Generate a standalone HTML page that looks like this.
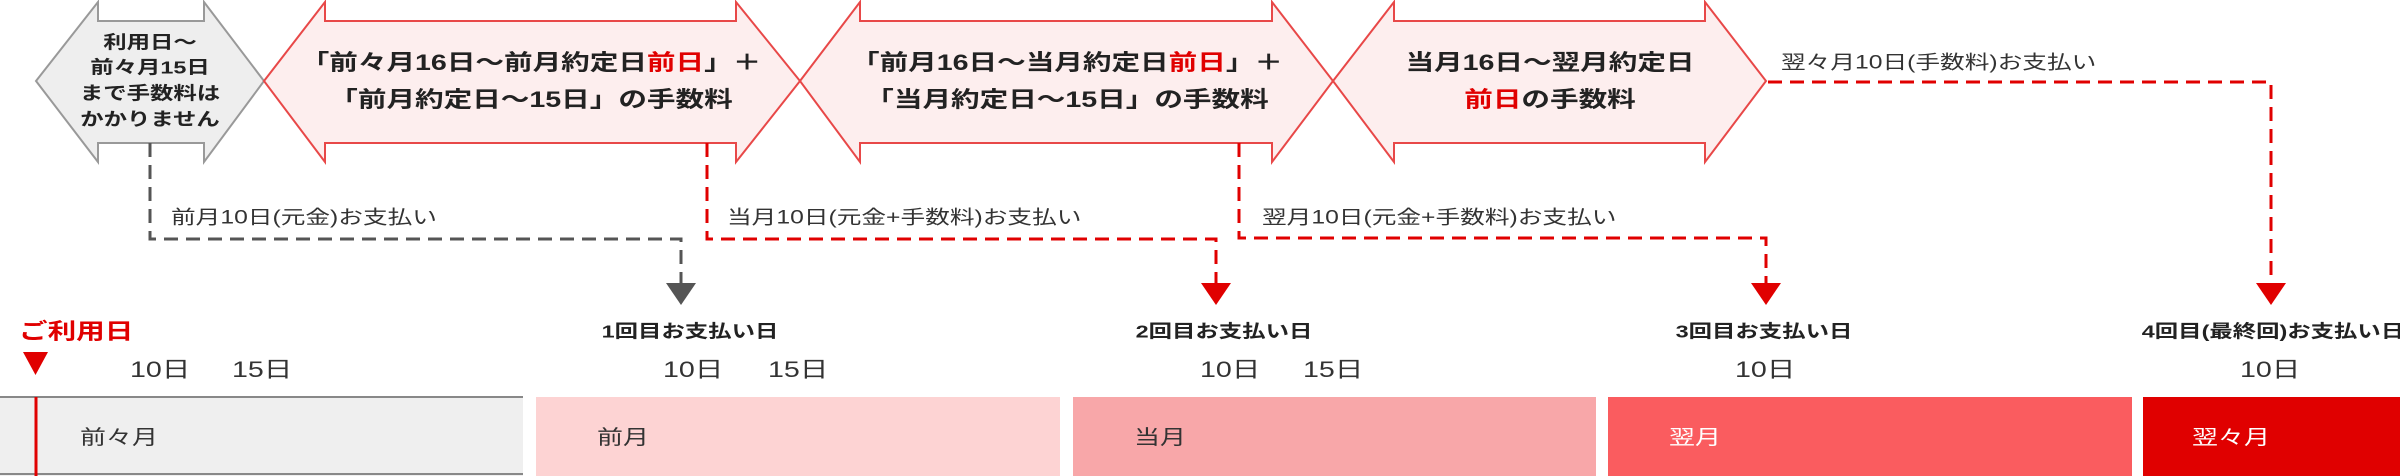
<!DOCTYPE html>
<html><head><meta charset="utf-8"><style>
html,body{margin:0;padding:0;background:#fff;}
svg{display:block;}
text{font-family:"Liberation Sans","Noto Sans CJK JP",sans-serif;dominant-baseline:central;}
.b{font-weight:bold;fill:#222;}
.n{fill:#333;}
.r{fill:#e00000;}
</style></head><body>
<svg width="2400" height="476" viewBox="0 0 2400 476" xmlns="http://www.w3.org/2000/svg">
<polygon points="36,81 98,2 98,21 204,21 204,2 264,81 204,162 204,143 98,143 98,162" fill="#eeeeee" stroke="#999" stroke-width="2"/>
<polygon points="264,81 325,2 325,21 736,21 736,2 800,81 736,162 736,143 325,143 325,162" fill="#fdeeee" stroke="#e84848" stroke-width="2"/>
<polygon points="800,81 860,2 860,21 1272,21 1272,2 1333,81 1272,162 1272,143 860,143 860,162" fill="#fdeeee" stroke="#e84848" stroke-width="2"/>
<polygon points="1333,81 1394,2 1394,21 1705,21 1705,2 1766,81 1705,162 1705,143 1394,143 1394,162" fill="#fdeeee" stroke="#e84848" stroke-width="2"/>

<g class="b" font-size="18" text-anchor="middle">
<text transform="translate(150,43) scale(1.3,1)">利用日～</text>
<text transform="translate(150,68) scale(1.3,1)">前々月15日</text>
<text transform="translate(150,94) scale(1.3,1)">まで手数料は</text>
<text transform="translate(150,120) scale(1.3,1)">かかりません</text>
</g>
<g class="b" font-size="22" text-anchor="middle">
<text transform="translate(531,63) scale(1.3,1)">「前々月16日～前月約定日<tspan class="r">前日</tspan>」＋</text>
<text transform="translate(531,100) scale(1.3,1)">「前月約定日～15日」の手数料</text>
<text transform="translate(1067,63) scale(1.3,1)">「前月16日～当月約定日<tspan class="r">前日</tspan>」＋</text>
<text transform="translate(1067,100) scale(1.3,1)">「当月約定日～15日」の手数料</text>
<text transform="translate(1550,63) scale(1.3,1)">当月16日～翌月約定日</text>
<text transform="translate(1550,100) scale(1.3,1)"><tspan class="r">前日</tspan>の手数料</text>
</g>

<g fill="none" stroke-width="3" stroke-dasharray="14,8">
<polyline points="150,143 150,239 681,239 681,283" stroke="#555"/>
<polyline points="707,143 707,239 1216,239 1216,283" stroke="#e00000"/>
<polyline points="1239,143 1239,238 1766,238 1766,283" stroke="#e00000"/>
<polyline points="1768,82 2271,82 2271,283" stroke="#e00000"/>
</g>
<polygon points="666,283 696,283 681,305" fill="#555"/>
<polygon points="1201,283 1231,283 1216,305" fill="#e00000"/>
<polygon points="1751,283 1781,283 1766,305" fill="#e00000"/>
<polygon points="2256,283 2286,283 2271,305" fill="#e00000"/>

<g class="n" font-size="19">
<text transform="translate(171,217) scale(1.3,1)">前月10日(元金)お支払い</text>
<text transform="translate(727,217) scale(1.3,1)">当月10日(元金+手数料)お支払い</text>
<text transform="translate(1262,217) scale(1.3,1)">翌月10日(元金+手数料)お支払い</text>
<text transform="translate(1781,62) scale(1.3,1)">翌々月10日(手数料)お支払い</text>
</g>

<text transform="translate(19,332) scale(1.3,1)" font-size="22" font-weight="bold" fill="#e00000">ご利用日</text>
<polygon points="23,352 48,352 35.5,375" fill="#e00000"/>
<g class="b" font-size="18" text-anchor="middle">
<text transform="translate(690,332) scale(1.3,1)">1回目お支払い日</text>
<text transform="translate(1224,332) scale(1.3,1)">2回目お支払い日</text>
<text transform="translate(1764,332) scale(1.3,1)">3回目お支払い日</text>
<text transform="translate(2273,332) scale(1.3,1)">4回目(最終回)お支払い日</text>
</g>
<g class="n" font-size="22">
<text transform="translate(130,370) scale(1.3,1)">10日</text>
<text transform="translate(232,370) scale(1.3,1)">15日</text>
<text transform="translate(663,370) scale(1.3,1)">10日</text>
<text transform="translate(768,370) scale(1.3,1)">15日</text>
<text transform="translate(1200,370) scale(1.3,1)">10日</text>
<text transform="translate(1303,370) scale(1.3,1)">15日</text>
<text transform="translate(1735,370) scale(1.3,1)">10日</text>
<text transform="translate(2240,370) scale(1.3,1)">10日</text>
</g>

<rect x="0" y="397" width="523" height="79" fill="#efefef"/>
<line x1="0" y1="397" x2="523" y2="397" stroke="#888" stroke-width="2"/>
<line x1="0" y1="474" x2="523" y2="474" stroke="#888" stroke-width="2"/>
<line x1="36" y1="397" x2="36" y2="476" stroke="#e00000" stroke-width="3"/>
<rect x="536" y="397" width="524" height="79" fill="#fdd3d3"/>
<rect x="1073" y="397" width="523" height="79" fill="#f8a7a9"/>
<rect x="1608" y="397" width="524" height="79" fill="#fa5c5f"/>
<rect x="2143" y="397" width="257" height="79" fill="#e00000"/>
<g font-size="20">
<text class="n" transform="translate(80,437) scale(1.3,1)">前々月</text>
<text class="n" transform="translate(597,437) scale(1.3,1)">前月</text>
<text class="n" transform="translate(1134,437) scale(1.3,1)">当月</text>
<text fill="#fff" transform="translate(1669,437) scale(1.3,1)">翌月</text>
<text fill="#fff" transform="translate(2192,437) scale(1.3,1)">翌々月</text>
</g>
</svg>
</body></html>
